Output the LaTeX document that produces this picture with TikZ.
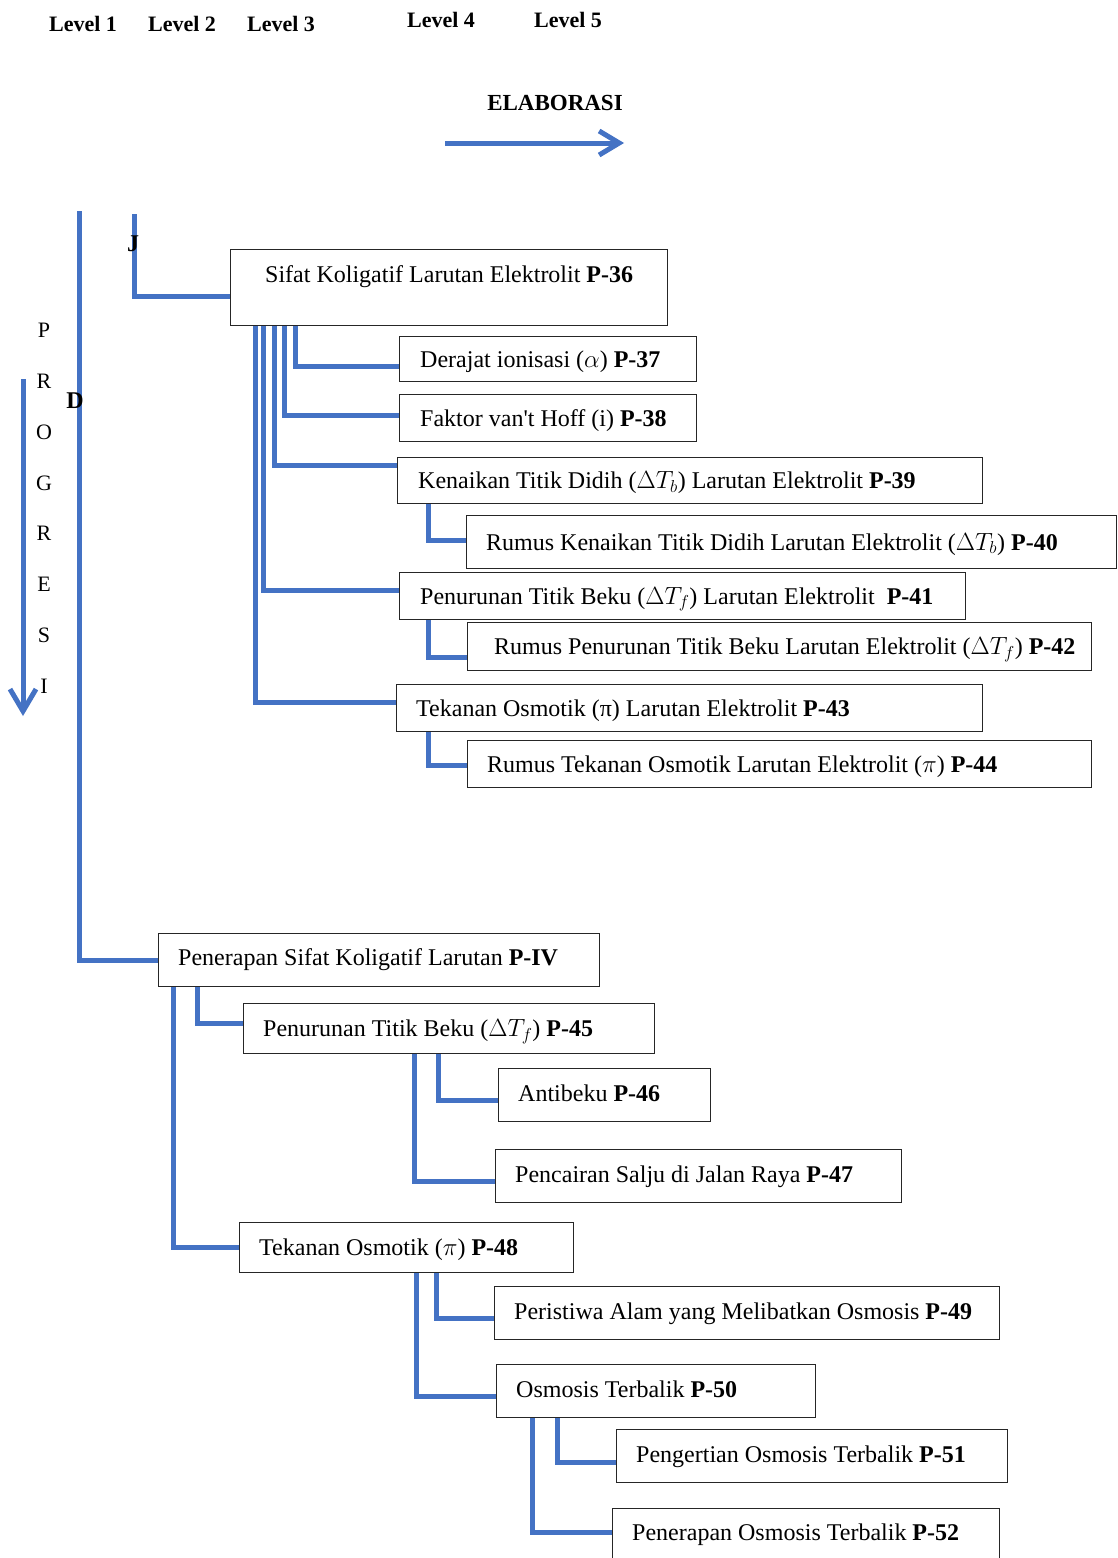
\documentclass[tikz,border=0pt]{standalone}
\usepackage{fontspec}
\setmainfont{Liberation Serif}
\usetikzlibrary{arrows.meta}
\definecolor{wblue}{RGB}{68,114,196}
\newcommand\bx[8]{%
  \node[box, minimum width=#4, minimum height=#5] (#1) at (#2,#3) {};
  \node[lbl] (#1t) at ([xshift=#6, yshift=#7]#1.west) {#8};
}
\begin{document}
\begin{tikzpicture}[x=1pt,y=-1pt,
  conn/.style={draw=wblue, line width=5pt},
  box/.style={draw=black!85, line width=1.2pt, rectangle, anchor=north west, inner sep=0pt},
  lbl/.style={anchor=west, inner sep=0pt, font=\fontsize{24}{28}\selectfont, text height=20pt, text depth=4pt},
  lvl/.style={font=\bfseries\fontsize{22}{26}\selectfont, inner sep=0pt},
  ltr/.style={font=\fontsize{22}{26}\selectfont, inner sep=0pt}]
\useasboundingbox[fill=white] (0,0) rectangle (1117,1558);

% header
\node[lvl] (l1) at (83,24) {Level 1};
\node[lvl] (l2) at (182,24) {Level 2};
\node[lvl] (l3) at (281,24) {Level 3};
\node[lvl] (l4) at (441,20) {Level 4};
\node[lvl] (l5) at (568,20) {Level 5};
\node[lvl, font=\bfseries\fontsize{23}{26}\selectfont] (elab) at (555,103) {ELABORASI};
\coordinate (ea) at (445,143);
\coordinate (eb) at (624,143);
\draw[conn, -{Straight Barb[length=20pt,width=24pt]}] (ea) -- (eb);

% progresi
\coordinate (pa) at (23,379);
\coordinate (pb) at (23,716);
\draw[conn, -{Straight Barb[length=22pt,width=26pt]}] (pa) -- (pb);
\foreach \c/\y [count=\i] in {P/330,R/381,O/432,G/483,R/533,E/584,S/635,I/686}
  \node[ltr] (p\i) at (44,\y) {\c};

% boxes
\bx{b36}{230}{249}{437}{76}{35}{13}{Sifat Koligatif Larutan Elektrolit \textbf{P-36}}
\bx{b37}{399}{336}{297}{45}{21}{0}{Derajat ionisasi ($\alpha$) \textbf{P-37}}
\bx{b38}{399}{394}{297}{47}{21}{0}{Faktor van\textquotesingle t Hoff (i) \textbf{P-38}}
\bx{b39}{397}{457}{585}{46}{21}{0}{Kenaikan Titik Didih ($\Delta T_b$) Larutan Elektrolit \textbf{P-39}}
\bx{b40}{466}{515}{650}{53}{20}{0}{Rumus Kenaikan Titik Didih Larutan Elektrolit ($\Delta T_b$) \textbf{P-40}}
\bx{b41}{399}{572}{566}{47}{21}{0}{Penurunan Titik Beku ($\Delta T_f$) Larutan Elektrolit\ \ \textbf{P-41}}
\bx{b42}{467}{622}{624}{48}{27}{0}{Rumus Penurunan Titik Beku Larutan Elektrolit ($\Delta T_f$) \textbf{P-42}}
\bx{b43}{396}{684}{586}{47}{20}{0}{Tekanan Osmotik (π) Larutan Elektrolit \textbf{P-43}}
\bx{b44}{467}{740}{624}{47}{20}{0}{Rumus Tekanan Osmotik Larutan Elektrolit ($\pi$) \textbf{P-44}}
\bx{bIV}{158}{933}{441}{53}{20}{2.5}{Penerapan Sifat Koligatif Larutan \textbf{P-IV}}
\bx{b45}{243}{1003}{411}{50}{20}{0}{Penurunan Titik Beku ($\Delta T_f$) \textbf{P-45}}
\bx{b46}{498}{1068}{212}{53}{20}{2}{Antibeku \textbf{P-46}}
\bx{b47}{495}{1149}{406}{53}{20}{2}{Pencairan Salju di Jalan Raya \textbf{P-47}}
\bx{b48}{239}{1222}{334}{50}{20}{0}{Tekanan Osmotik ($\pi$) \textbf{P-48}}
\bx{b49}{494}{1286}{505}{53}{20}{2}{Peristiwa Alam yang Melibatkan Osmosis \textbf{P-49}}
\bx{b50}{496}{1364}{319}{53}{20}{2}{Osmosis Terbalik \textbf{P-50}}
\bx{b51}{616}{1429}{391}{53}{20}{2}{Pengertian Osmosis Terbalik \textbf{P-51}}
\bx{b52}{612}{1508}{387}{54}{20}{3}{Penerapan Osmosis Terbalik \textbf{P-52}}

% level lines
\coordinate (v1) at (79,211);
\coordinate (v2) at (134,214);
\draw[conn] (v1) |- (bIV.west);
\draw[conn] (v2) |- ([yshift=-9]b36.west);

% connectors
\draw[conn] ([xshift=65]b36.south west) |- ([yshift=-7.5]b37.west);
\draw[conn] ([xshift=54]b36.south west) |- ([yshift=2.5]b38.west);
\draw[conn] ([xshift=44]b36.south west) |- ([yshift=15]b39.west);
\draw[conn] ([xshift=33]b36.south west) |- ([yshift=5.5]b41.west);
\draw[conn] ([xshift=25]b36.south west) |- ([yshift=5.5]b43.west);
\draw[conn] ([xshift=31]b39.south west) |- ([yshift=1.5]b40.west);
\draw[conn] ([xshift=29]b41.south west) |- ([yshift=-11]b42.west);
\draw[conn] ([xshift=32]b43.south west) |- ([yshift=-1.5]b44.west);
\draw[conn] ([xshift=39]bIV.south west) |- ([yshift=5]b45.west);
\draw[conn] ([xshift=15]bIV.south west) |- (b48.west);
\draw[conn] ([xshift=195]b45.south west) |- ([yshift=-5.5]b46.west);
\draw[conn] ([xshift=171]b45.south west) |- ([yshift=-5.5]b47.west);
\draw[conn] ([xshift=197]b48.south west) |- ([yshift=-5.5]b49.west);
\draw[conn] ([xshift=177]b48.south west) |- ([yshift=-5.5]b50.west);
\draw[conn] ([xshift=61]b50.south west) |- ([yshift=-6.5]b51.west);
\draw[conn] ([xshift=36]b50.south west) |- ([yshift=3]b52.west);

% letters on lines
\node[lvl, font=\bfseries\fontsize{24}{28}\selectfont] (D) at (75,401) {D};
\node[lvl, font=\bfseries\fontsize{24}{28}\selectfont] (J) at (133,244) {J};
\end{tikzpicture}
\end{document}
